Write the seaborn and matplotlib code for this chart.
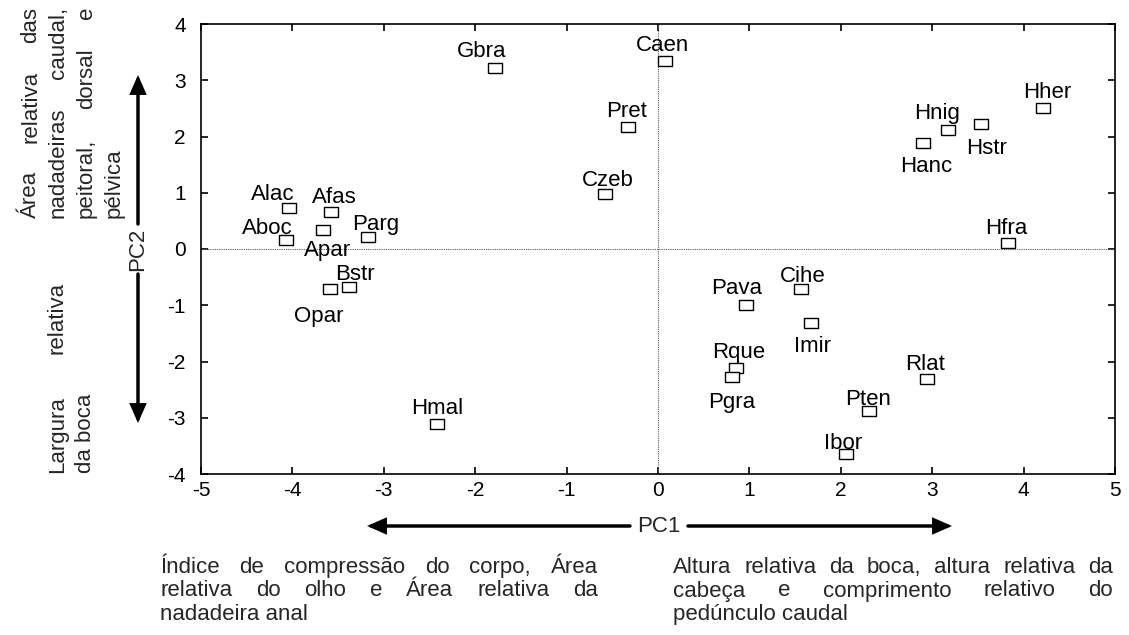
import matplotlib
matplotlib.use("Agg")
import matplotlib.pyplot as plt
import seaborn as sns
import pandas as pd
from matplotlib.patches import FancyArrowPatch
from matplotlib.transforms import IdentityTransform

# %% data
species = ["Gbra", "Caen", "Pret", "Czeb", "Alac", "Afas", "Aboc", "Apar", "Parg",
           "Bstr", "Opar", "Hmal", "Pava", "Cihe", "Imir", "Rque", "Pgra", "Pten",
           "Ibor", "Rlat", "Hher", "Hnig", "Hstr", "Hanc", "Hfra"]
pc1 = [-1.78, 0.08, -0.33, -0.58, -4.04, -3.58, -4.07, -3.67, -3.17,
       -3.38, -3.59, -2.42, 0.96, 1.56, 1.67, 0.85, 0.81, 2.31,
       2.06, 2.94, 4.21, 3.17, 3.53, 2.90, 3.83]
pc2 = [3.22, 3.34, 2.17, 0.98, 0.73, 0.66, 0.16, 0.34, 0.21,
       -0.68, -0.71, -3.11, -1.00, -0.71, -1.32, -2.12, -2.28, -2.88,
       -3.64, -2.31, 2.51, 2.12, 2.22, 1.88, 0.11]

# label placement, pixels from the marker (dx right, dy down to baseline)
label_dx = [-14, -3, -1, 3, -16, 4, -19, 5, 7,
            6, -11, 0, -9, 2, 2, 3, 0, -1,
            -3, -2, 4, -11, 6, 3, -2]
label_dy = [-11, -10, -10, -8, -8, -9, -6, 26, -7,
            -7, 33, -10, -11, -7, 29, -10, 31, -6,
            -5, -9, -10, -11, 30, 29, -9]

x_ticks = list(range(-5, 6))
y_ticks = list(range(-4, 5))

left_text = ["Índice de compressão do corpo, Área",
             "relativa do olho e Área relativa da",
             "nadadeira anal"]
right_text = ["Altura relativa da boca, altura relativa da",
              "cabeça e comprimento relativo do",
              "pedúnculo caudal"]
top_text = ["Área relativa das", "nadadeiras caudal,", "peitoral, dorsal e", "pélvica"]
low_text = ["Largura relativa", "da boca"]

# %% figure
W, H = 1129, 635
FS = 16       # side / bottom text
FS_LAB = 16   # point labels
FS_TICK = 15
sns.set_style("ticks")
plt.rcParams["font.family"] = ["Liberation Sans", "DejaVu Sans"]
plt.rcParams["axes.unicode_minus"] = False

fig = plt.figure(figsize=(W / 100, H / 100), dpi=100)
ax = fig.add_axes([201 / W, 1 - 474 / H, 914 / W, 450 / H])

df = pd.DataFrame({"species": species, "PC1": pc1, "PC2": pc2})

ax.axhline(0, color="0.35", ls=(0, (1, 1)), lw=0.8, zorder=1)
ax.axvline(0, color="0.35", ls=(0, (1, 1)), lw=0.8, zorder=1)

box = [(-1, -0.7), (1, -0.7), (1, 0.7), (-1, 0.7), (-1, -0.7)]
sns.scatterplot(data=df, x="PC1", y="PC2", marker=box, s=90, color="white",
                edgecolor="black", linewidth=1.0, ax=ax, zorder=3)

for name, x, y, dx, dy in zip(species, pc1, pc2, label_dx, label_dy):
    ax.annotate(name, (x, y), xytext=(dx, -dy), textcoords="offset pixels",
                ha="center", va="baseline", fontsize=FS_LAB, color="black")

ax.set_xlim(-5, 5)
ax.set_ylim(-4, 4)
ax.set_xticks(x_ticks)
ax.set_yticks(y_ticks)
ax.set_xlabel("")
ax.set_ylabel("")
ax.tick_params(direction="in", top=True, right=True, length=5, width=1.2,
               labelsize=FS_TICK, colors="black")
ax.tick_params(axis="x", pad=5)
ax.tick_params(axis="y", pad=11)
for s in ax.spines.values():
    s.set_linewidth(1.2)
    s.set_color("black")

# %% annotations outside the axes (pixel coords, y measured from the top)
renderer = fig.canvas.get_renderer()


def place_line(line, a0, a1, pos, vertical=False, justify=True):
    rot = 90 if vertical else 0
    if not justify:
        xy = (pos, H - a0) if vertical else (a0, H - pos)
        fig.text(*xy, line, fontsize=FS, rotation=rot, rotation_mode="anchor",
                 ha="left", va="baseline", transform=IdentityTransform())
        return
    words = line.split()
    arts, sizes = [], []
    for w in words:
        t = fig.text(0, 0, w, fontsize=FS, rotation=rot, rotation_mode="anchor",
                     ha="left", va="baseline", transform=IdentityTransform())
        bb = t.get_window_extent(renderer)
        arts.append(t)
        sizes.append(bb.height if vertical else bb.width)
    gap = (abs(a1 - a0) - sum(sizes)) / (len(words) - 1)
    cur = 0
    for t, sz in zip(arts, sizes):
        if vertical:
            t.set_position((pos, H - a0 + cur))
        else:
            t.set_position((a0 + cur, H - pos))
        cur += sz + gap


for i, line in enumerate(left_text):
    place_line(line, 160, 598, 573 + 23.5 * i, justify=i < 2)
for i, line in enumerate(right_text):
    place_line(line, 673, 1113, 573 + 23.5 * i, justify=i < 2)
for i, line in enumerate(top_text):
    place_line(line, 218, 7, 36 + 28 * i, vertical=True, justify=i < 3)
for i, line in enumerate(low_text):
    place_line(line, 473, 282, 63 + 28 * i, vertical=True, justify=i < 1)


def arrow(p0, p1):
    fig.add_artist(FancyArrowPatch((p0[0], H - p0[1]), (p1[0], H - p1[1]),
                                   transform=IdentityTransform(),
                                   arrowstyle="-|>,head_length=0.5,head_width=0.22",
                                   mutation_scale=20, lw=2.5, color="black",
                                   shrinkA=0, shrinkB=0, joinstyle="miter"))


arrow((630, 526), (367, 526))
arrow((688, 526), (952, 526))
arrow((138, 224), (138, 75))
arrow((138, 274), (138, 423))
fig.text(659, H - 526, "PC1", fontsize=FS, ha="center", va="center",
         transform=IdentityTransform())
fig.text(138, H - 249, "PC2", fontsize=FS, ha="center", va="center", rotation=90,
         transform=IdentityTransform())

fig.savefig("out.png", dpi=100, facecolor="white")
